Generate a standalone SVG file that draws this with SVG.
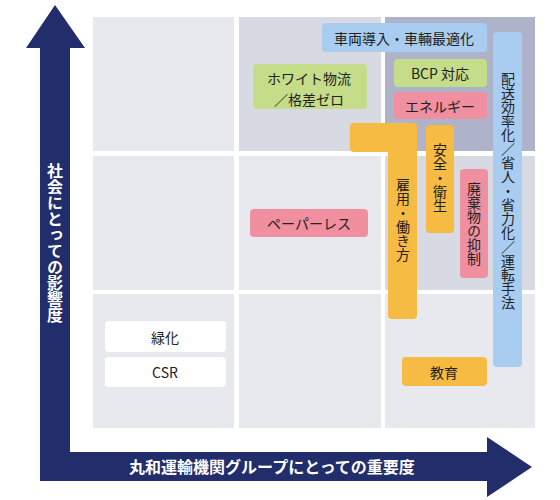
<svg xmlns="http://www.w3.org/2000/svg" width="560" height="500" viewBox="0 0 560 500">
<style>
text{font-family:"Noto Sans CJK JP","Noto Sans",sans-serif;fill:#222;font-size:14px;}
.ax{fill:#fff;font-size:16px;font-weight:bold;}
.v{writing-mode:vertical-rl;text-anchor:middle;}
.h{text-anchor:middle;dominant-baseline:central;}
.cl{fill:#e8e9ef;}
.cm{fill:#d7d9e3;}
.cd{fill:#aeb3c9;}
.blue{fill:#a9cdf0;}
.green{fill:#c5dd89;}
.pink{fill:#ef8fa0;}
.orange{fill:#f6bb43;}
.white{fill:#ffffff;}
</style>
<rect width="560" height="500" fill="#fff"/>
<g id="grid">
<rect class="cl" x="93" y="17" width="141" height="134"/>
<rect class="cm" x="239" y="17" width="142" height="134"/>
<rect class="cd" x="385" y="17" width="150" height="134"/>
<rect class="cl" x="93" y="156" width="141" height="134"/>
<rect class="cl" x="239" y="156" width="142" height="134"/>
<rect class="cm" x="385" y="156" width="150" height="134"/>
<rect class="cl" x="93" y="294" width="141" height="134"/>
<rect class="cl" x="239" y="294" width="142" height="134"/>
<rect class="cl" x="385" y="294" width="150" height="134"/>
</g>
<g id="axes">
<polygon fill="#222d6b" points="55,5 85,48 70,48 70,452 487,452 487,437 532,467 487,497 487,481 40,481 40,48 26,48"/>
<text class="ax v" x="55" y="243">社会にとっての影響度</text>
<text class="ax h" x="272" y="466">丸和運輸機関グループにとっての重要度</text>
</g>
<g id="connectors"></g>
<g id="n-vehicle"><rect class="blue" x="322" y="23" width="165" height="29" rx="4"/><text class="h" x="404" y="38">車両導入・車輛最適化</text></g>
<g id="n-delivery"><rect class="blue" x="493" y="32" width="29" height="335" rx="4"/><text class="v" x="508" y="191">配送効率化／省人・省力化／運転手法</text></g>
<g id="n-bcp"><rect class="green" x="394" y="59" width="93" height="28" rx="4"/><text class="h" x="440" y="73">BCP 対応</text></g>
<g id="n-energy"><rect class="pink" x="394" y="92" width="93" height="27" rx="4"/><text class="h" x="440" y="106">エネルギー</text></g>
<g id="n-white"><rect class="green" x="253" y="64" width="114" height="45" rx="4"/><text class="h" x="309" y="78">ホワイト物流</text><text class="h" x="309" y="99">／格差ゼロ</text></g>
<g id="n-paperless"><rect class="pink" x="250" y="209" width="118" height="28" rx="4"/><text class="h" x="309" y="223">ペーパーレス</text></g>
<g id="n-employ"><path class="orange" d="M354,123 H413 Q417,123 417,127 V315 Q417,319 413,319 H392 Q388,319 388,315 V152 H354 Q350,152 350,148 V127 Q350,123 354,123 Z"/><text class="v" x="403" y="220">雇用・働き方</text></g>
<g id="n-safety"><rect class="orange" x="426" y="125" width="28" height="108" rx="4"/><text class="v" x="440" y="178">安全・衛生</text></g>
<g id="n-waste"><rect class="pink" x="460" y="169" width="28" height="109" rx="4"/><text class="v" x="474" y="224">廃棄物の抑制</text></g>
<g id="n-edu"><rect class="orange" x="402" y="357" width="85" height="29" rx="4"/><text class="h" x="444" y="372">教育</text></g>
<g id="n-green"><rect class="white" x="105" y="321" width="121" height="31" rx="4"/><text class="h" x="165" y="337">緑化</text></g>
<g id="n-csr"><rect class="white" x="105" y="357" width="121" height="30" rx="4"/><text class="h" x="165" y="372">CSR</text></g>
</svg>
